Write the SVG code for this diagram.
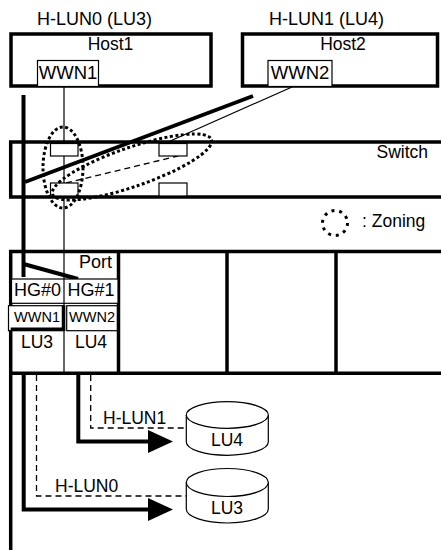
<svg xmlns="http://www.w3.org/2000/svg" width="441" height="550" viewBox="0 0 441 550">
<style>
text { font-family: "Liberation Sans", Arial, sans-serif; fill: #000; }
.f18 { font-size: 18px; }
.f17 { font-size: 17.5px; }
.mid { text-anchor: middle; }
.end { text-anchor: end; }
.box { fill: #fff; stroke: #000; stroke-width: 3.5; }
.frame { fill: none; stroke: #000; stroke-width: 3.5; }
.cell { fill: #fff; stroke: #000; stroke-width: 1.2; }
.thick { fill: none; stroke: #000; stroke-width: 4; }
.line { fill: none; stroke: #000; stroke-width: 1.2; }
.dash { fill: none; stroke: #000; stroke-width: 1.3; stroke-dasharray: 6 4; }
.zone { fill: none; stroke: #000; stroke-width: 3; stroke-dasharray: 3 2.5; }
.head { fill: #000; stroke: none; }
</style>
<rect x="0" y="0" width="441" height="550" fill="#fff"/>

<!-- Switch frame -->
<g id="switch">
  <rect class="frame" x="10.7" y="142" width="440" height="55"/>
  <text class="f17 end" x="428" y="158">Switch</text>
</g>

<!-- Storage frame -->
<g id="storage">
  <path class="frame" d="M10.7 560 V251.5 H450"/>
  <line class="frame" x1="10.7" y1="373.3" x2="450" y2="373.3"/>
  <line class="frame" x1="118.5" y1="251.5" x2="118.5" y2="373.3"/>
  <line class="frame" x1="227" y1="251.5" x2="227" y2="373.3"/>
  <line class="frame" x1="336" y1="251.5" x2="336" y2="373.3"/>
</g>

<g id="connectors">
  <!-- WWN1 to storage HG -->
  <line class="line" x1="64" y1="86" x2="64" y2="373"/>
  <!-- WWN2 to switch port -->
  <line class="line" x1="292" y1="87" x2="168" y2="142"/>
  <!-- path inside switch -->
  <line class="dash" x1="66" y1="183" x2="178" y2="156"/>
  <!-- thick path -->
  <polyline class="thick" points="253,96 25,182"/>
  <polyline class="thick" points="23.5,95 23.5,277"/>
  <line class="thick" x1="23.5" y1="264" x2="78" y2="279"/>
  <!-- storage internal paths -->
  <polyline class="thick" points="23.7,373 23.7,509.5 150,509.5"/>
  <polygon class="head" points="148,498 173,509.5 148,521"/>
  <polyline class="thick" points="78.3,373 78.3,441.5 150,441.5"/>
  <polygon class="head" points="148,430 173,441.5 148,453"/>
  <polyline class="dash" points="36.5,375 36.5,496 186,496"/>
  <polyline class="dash" points="90.7,375 90.7,428 186,428"/>
</g>

<g id="switch-ports">
  <rect class="cell" x="50.5" y="143.5" width="27.5" height="12.5"/>
  <rect class="cell" x="50.5" y="183" width="27.5" height="13"/>
  <rect class="cell" x="159" y="143.5" width="28" height="12.5"/>
  <rect class="cell" x="159" y="183" width="28" height="13"/>
</g>

<g id="host1">
  <text class="f18" x="37" y="25">H-LUN0 (LU3)</text>
  <rect class="box" x="11" y="34" width="200" height="52"/>
  <text class="f17 mid" x="110.5" y="50">Host1</text>
  <rect class="cell" x="37.5" y="60.5" width="61" height="26"/>
  <text class="mid" style="font-size:18.5px" x="68" y="78.5">WWN1</text>
</g>

<g id="host2">
  <text class="f18" x="269" y="25">H-LUN1 (LU4)</text>
  <rect class="box" x="242.5" y="34" width="195" height="52"/>
  <text class="f17 mid" x="343" y="50">Host2</text>
  <rect class="cell" x="268" y="60.5" width="64" height="26"/>
  <text class="mid" style="font-size:18.5px" x="300" y="78.5">WWN2</text>
</g>

<g id="zoning-legend">
  <circle cx="335" cy="223" r="12.5" fill="none" stroke="#000" stroke-width="3" stroke-dasharray="3 4.85"/>
  <text class="f17" x="362" y="227">: Zoning</text>
</g>

<g id="port">
  <text class="f18 end" x="112" y="268">Port</text>
  <rect class="cell" x="11.5" y="279" width="106.5" height="24.3"/>
  <line class="line" x1="64" y1="279" x2="64" y2="303.3"/>
  <text class="f18 mid" x="37.5" y="296">HG#0</text>
  <text class="f18 mid" x="91" y="296">HG#1</text>
  <rect class="cell" x="8.5" y="305.7" width="56" height="25"/>
  <line class="frame" x1="10.7" y1="329.3" x2="64.5" y2="329.3"/>
  <line class="frame" x1="63.5" y1="305.7" x2="63.5" y2="331"/>
  <rect class="cell" x="66.7" y="305.7" width="50.6" height="25"/>
  <text class="mid" style="font-size:15px" x="37" y="322" textLength="46" lengthAdjust="spacingAndGlyphs">WWN1</text>
  <text class="mid" style="font-size:15px" x="92" y="322" textLength="46" lengthAdjust="spacingAndGlyphs">WWN2</text>
  <text class="f17 mid" x="37" y="348">LU3</text>
  <text class="f17 mid" x="91" y="348">LU4</text>
</g>

<g id="hlun-labels">
  <text class="f17" x="103" y="424">H-LUN1</text>
  <text class="f17" x="55" y="491.5">H-LUN0</text>
</g>

<g id="lu4">
  <path class="cell" d="M186.3 415 V442 A41 13.3 0 0 0 268.3 442 V415"/>
  <ellipse class="cell" cx="227.3" cy="415" rx="41" ry="13.3"/>
  <text class="f17 mid" x="227" y="446">LU4</text>
</g>

<g id="lu3">
  <path class="cell" d="M186.3 482.5 V509 A41 14 0 0 0 268.3 509 V482.5"/>
  <ellipse class="cell" cx="227.3" cy="482.5" rx="41" ry="14"/>
  <text class="f17 mid" x="227" y="514">LU3</text>
</g>

<g id="zoning">
  <ellipse class="zone" cx="63" cy="167.5" rx="20" ry="40.5"/>
  <ellipse class="zone" cx="132" cy="167" rx="84" ry="19.5" transform="rotate(-19 132 167)"/>
</g>
</svg>
